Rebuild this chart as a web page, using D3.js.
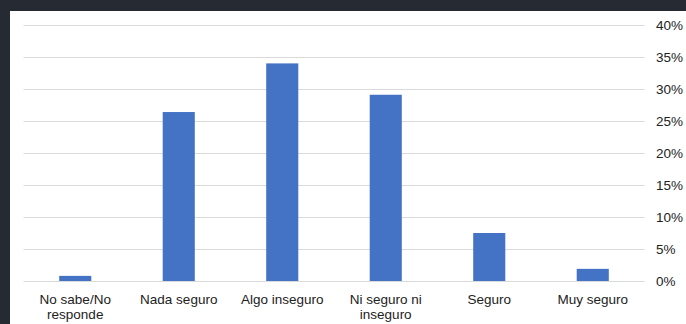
<!DOCTYPE html>
<html>
<head>
<meta charset="utf-8">
<script src="https://cdn.jsdelivr.net/npm/d3@7"></script>
<style>
  html, body { margin: 0; padding: 0; background: #262a33; }
  svg { display: block; }
</style>
</head>
<body>
<svg id="chart" width="686" height="324"></svg>
<script>
// Category labels (split into display lines) and values in percent
const categories = ["No sabe/No responde", "Nada seguro", "Algo inseguro", "Ni seguro ni inseguro", "Seguro", "Muy seguro"];
const labelLines = [["No sabe/No", "responde"], ["Nada seguro"], ["Algo inseguro"], ["Ni seguro ni", "inseguro"], ["Seguro"], ["Muy seguro"]];
const values = [0.8, 26.4, 34.0, 29.1, 7.5, 1.9];
const yTicks = [0, 5, 10, 15, 20, 25, 30, 35, 40];

const fontFamily = "'Liberation Sans', Arial, Helvetica, sans-serif";
const width = 686, height = 324;
const svg = d3.select("#chart");

// white panel over the dark frame
svg.append("rect")
  .attr("x", 10).attr("y", 11)
  .attr("width", width - 10).attr("height", height - 11)
  .attr("fill", "#fff");

const x = d3.scaleBand()
  .domain(categories)
  .range([23.5, 644.5])
  .paddingInner(0.69)
  .paddingOuter(0.345);

const y = d3.scaleLinear()
  .domain([0, 40])
  .range([281, 25]);

// gridlines
svg.append("g")
  .selectAll("line")
  .data(yTicks)
  .enter()
  .append("line")
  .attr("x1", 23.5)
  .attr("x2", 644.5)
  .attr("y1", d => Math.round(y(d)) + 0.5)
  .attr("y2", d => Math.round(y(d)) + 0.5)
  .attr("stroke", "#dadada")
  .attr("stroke-width", 1);

// y tick labels on the right
svg.append("g")
  .selectAll("text")
  .data(yTicks)
  .enter()
  .append("text")
  .attr("x", 656)
  .attr("y", d => y(d) + 5)
  .attr("font-family", fontFamily)
  .attr("font-size", "13.5px")
  .attr("fill", "#222")
  .text(d => d + "%");

// bars
svg.append("g")
  .selectAll("rect")
  .data(values)
  .enter()
  .append("rect")
  .attr("x", (d, i) => x(categories[i]))
  .attr("y", d => y(d))
  .attr("width", x.bandwidth())
  .attr("height", d => y(0) - y(d))
  .attr("fill", "#4472c4");

// category labels
const labels = svg.append("g")
  .selectAll("text")
  .data(categories)
  .enter()
  .append("text")
  .attr("text-anchor", "middle")
  .attr("font-family", fontFamily)
  .attr("font-size", "13.5px")
  .attr("fill", "#222");

labels.each(function (d, i) {
  const t = d3.select(this);
  labelLines[i].forEach((line, j) => {
    t.append("tspan")
      .attr("x", x(d) + x.bandwidth() / 2)
      .attr("y", 304 + j * 15)
      .text(line);
  });
});
</script>
</body>
</html>
